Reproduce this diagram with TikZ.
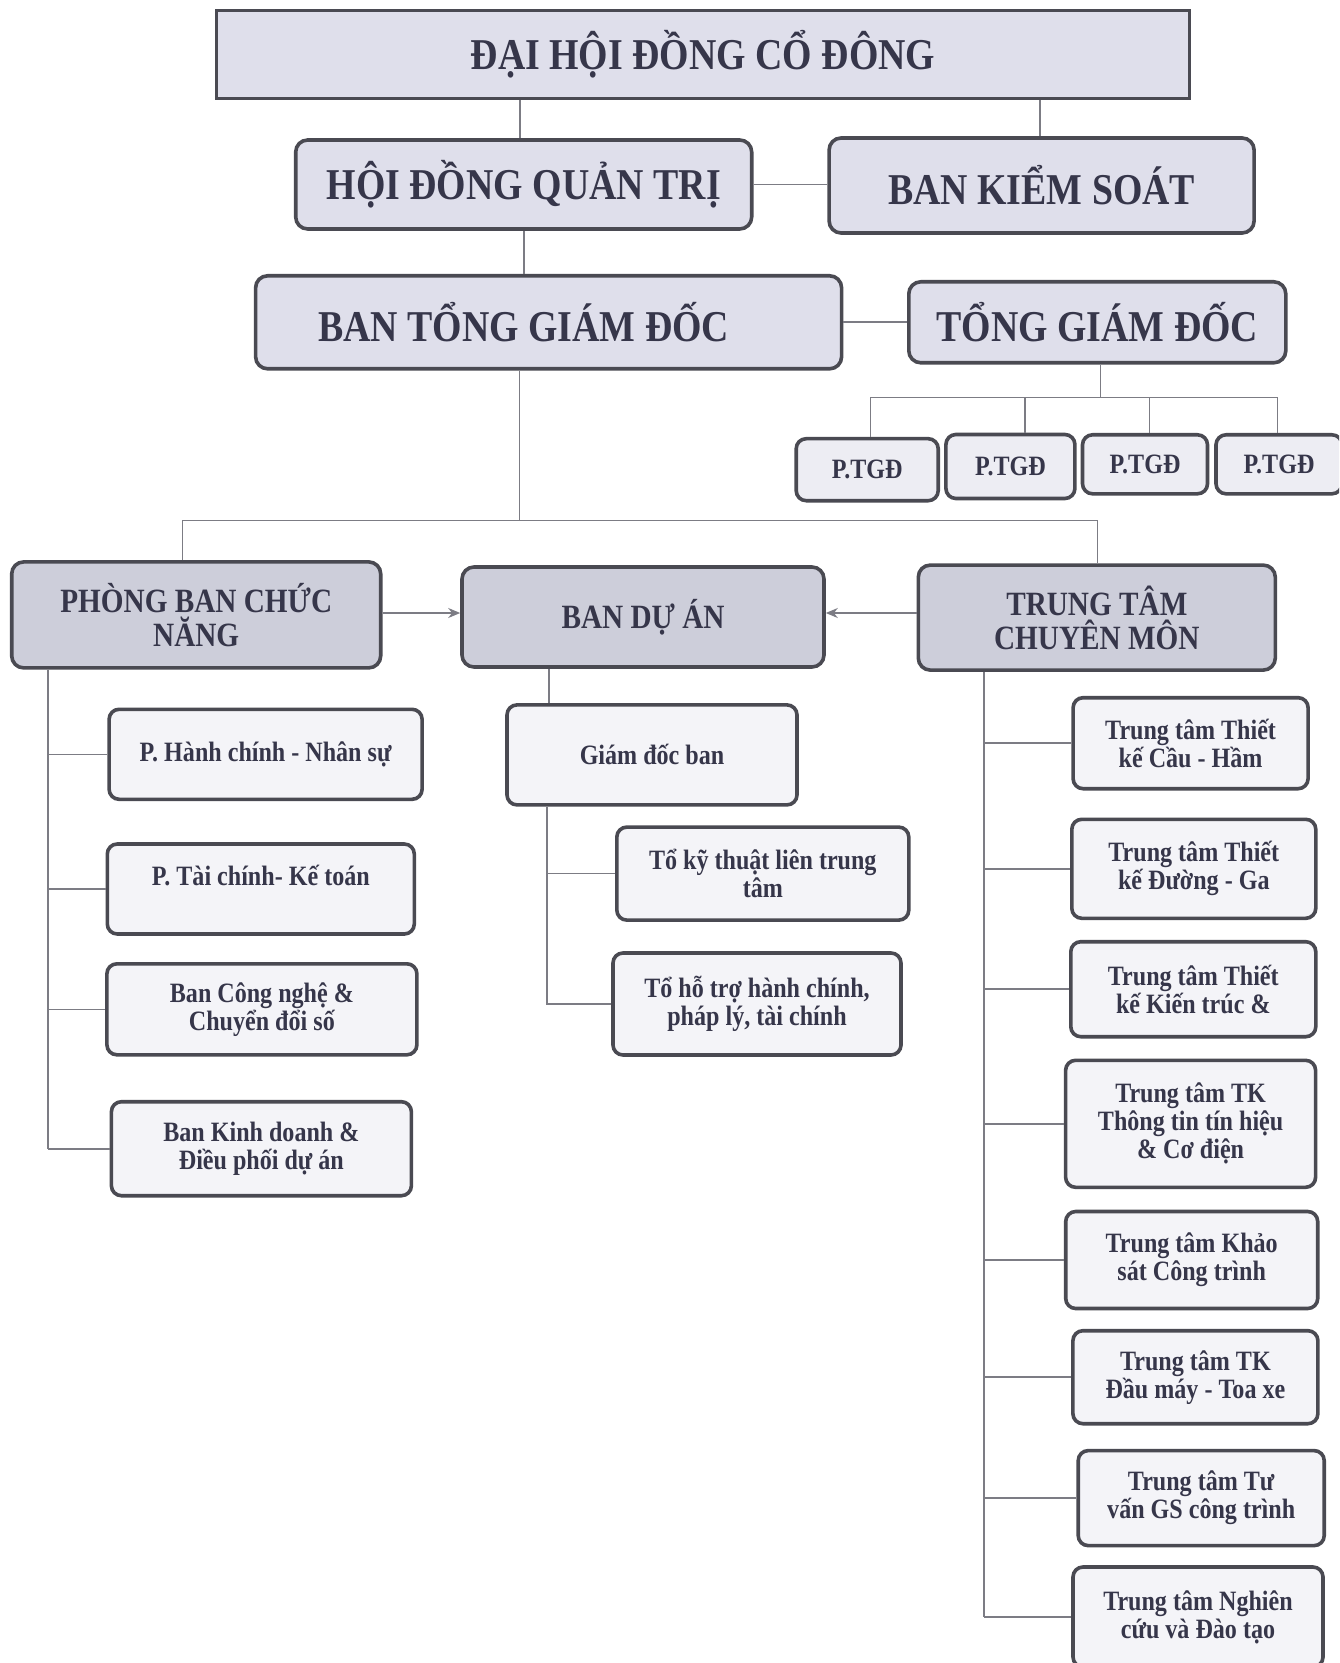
\documentclass[tikz,border=0pt]{standalone}
\usepackage{fontspec}
\setmainfont{Liberation Serif}
\newfontfamily\orgfont[FakeStretch=0.86]{Liberation Serif}
\usetikzlibrary{arrows.meta}
\definecolor{boxline}{HTML}{4A4A52}
\definecolor{topfill}{HTML}{DFDFEB}
\definecolor{midfill}{HTML}{CDCEDA}
\definecolor{lowfill}{HTML}{F4F4F8}
\definecolor{ptfill}{HTML}{EDEDF3}
\definecolor{txt}{HTML}{36364A}
\definecolor{connc}{HTML}{7C7C84}
\begin{document}
\begin{tikzpicture}[x=0.5pt,y=-0.5pt,
  base/.style={draw=boxline, line width=1.8pt, rounded corners=5pt, inner sep=0pt, align=center, text=txt},
  topfont/.style={font=\orgfont\bfseries\fontsize{22}{22}\selectfont},
  topbox/.style={base, fill=topfill, rounded corners=6pt, topfont},
  midbox/.style={base, fill=midfill, rounded corners=6pt, font=\orgfont\bfseries\fontsize{17}{17}\selectfont},
  lowbox/.style={base, fill=lowfill, font=\orgfont\bfseries\fontsize{14}{14}\selectfont},
  ptbox/.style={base, fill=ptfill, font=\orgfont\bfseries\fontsize{14}{14}\selectfont},
  sz/.style 2 args={minimum width=#1*0.5pt, minimum height=#2*0.5pt},
  conn/.style={draw=connc, line width=0.8pt},
  arr/.style={conn, -{Stealth[length=6pt,width=5pt]}}
]
\useasboundingbox (0,0) rectangle (1339,1663);
\clip (0,0) rectangle (1339,1663);
\fill[white] (0,0) rectangle (1339,1663);

% top level
\node[topbox, sharp corners, sz={973}{88}] (dh) at (703,54.6) {ĐẠI HỘI ĐỒNG CỔ ĐÔNG};
\node[topbox, sz={456}{89}] (hdqt) at (523.7,184.5) {HỘI ĐỒNG QUẢN TRỊ};
\node[topbox, sz={425}{95}] (bks) at (1041.6,185.5) {BAN KIỂM SOÁT};
\node[topbox, sz={586}{93}] (btgd) at (548.6,322.3) {};
\node[topfont, text=txt, inner sep=0pt] (btgdt) at (523.7,322.3) {BAN TỔNG GIÁM ĐỐC};
\node[topbox, sz={377}{81}] (tgd) at (1097.3,322.3) {TỔNG GIÁM ĐỐC};

% P.TGD
\node[ptbox, sz={142}{62}] (p1) at (867.2,469.7) {P.TGĐ};
\node[ptbox, sz={129}{64}] (p2) at (1010.4,466.5) {P.TGĐ};
\node[ptbox, sz={125}{59}] (p3) at (1145,464.3) {P.TGĐ};
\node[ptbox, sz={126}{59}] (p4) at (1279,464.3) {P.TGĐ};

% middle level
\node[midbox, sz={369}{106}] (pbcn) at (196.2,614.9) {PHÒNG BAN CHỨC\\NĂNG};
\node[midbox, sz={362}{100}] (bda) at (643,617) {BAN DỰ ÁN};
\node[midbox, sz={357}{105}] (ttcm) at (1096.8,617.6) {TRUNG TÂM\\CHUYÊN MÔN};

% left column
\node[lowbox, sz={313}{90}] (hcns) at (265.6,754.3) {P. Hành chính - Nhân sự};
\node[lowbox, sz={307}{90}] (tckt) at (260.8,889) {P. Tài chính- Kế toán\\~};
\node[lowbox, sz={310}{91}] (cncds) at (261.9,1009.3) {Ban Công nghệ \&\\Chuyển đổi số};
\node[lowbox, sz={300}{94}] (kddp) at (261.4,1148.7) {Ban Kinh doanh \&\\Điều phối dự án};

% middle column
\node[lowbox, sz={290}{100}] (gdb) at (652,754.9) {Giám đốc ban};
\node[lowbox, sz={292}{93}] (tkt) at (762.8,873.6) {Tổ kỹ thuật liên trung\\tâm};
\node[lowbox, sz={288}{102}] (tht) at (757,1004) {Tổ hỗ trợ hành chính,\\pháp lý, tài chính};

% right column
\node[lowbox, sz={235}{91}] (c1) at (1190.6,743.2) {Trung tâm Thiết\\kế Cầu - Hầm};
\node[lowbox, sz={244}{99}] (c2) at (1193.8,868.8) {Trung tâm Thiết\\kế Đường - Ga};
\node[lowbox, sz={245}{95}] (c3) at (1193.3,989.2) {Trung tâm Thiết\\kế Kiến trúc \&};
\node[lowbox, sz={250}{127}] (c4) at (1190.6,1123.8) {Trung tâm TK\\Thông tin tín hiệu\\\& Cơ điện};
\node[lowbox, sz={252}{97}] (c5) at (1191.7,1260) {Trung tâm Khảo\\sát Công trình};
\node[lowbox, sz={245}{93}] (c6) at (1195.4,1377.2) {Trung tâm TK\\Đầu máy - Toa xe};
\node[lowbox, sz={246}{95}] (c7) at (1201.2,1498.1) {Trung tâm Tư\\vấn GS công trình};
\node[lowbox, sz={250}{100}] (c8) at (1198,1617) {Trung tâm Nghiên\\cứu và Đào tạo};

% connectors, top
\coordinate (xa) at (520,0);
\coordinate (xb) at (1040,0);
\draw[conn] (xa |- dh.south) -- (xa |- hdqt.north);
\draw[conn] (xb |- dh.south) -- (xb |- bks.north);
\draw[conn] (hdqt.east) -- (hdqt.east -| bks.west);
\draw[conn] (hdqt.south) -- (hdqt.south |- btgd.north);
\draw[conn] (btgd.east) -- (btgd.east -| tgd.west);

% TGD to P.TGD
\coordinate (ja) at (1100.5,397.6);
\coordinate (jp1) at (870.4,397.6);
\coordinate (jp2) at (1025.2,397.6);
\coordinate (jp3) at (1149.3,397.6);
\coordinate (jp4) at (1277.5,397.6);
\draw[conn] (ja |- tgd.south) -- (ja);
\draw[conn] (jp1) -- (jp4);
\draw[conn] (jp1) -- (jp1 |- p1.north);
\draw[conn] (jp2) -- (jp2 |- p2.north);
\draw[conn] (jp3) -- (jp3 |- p3.north);
\draw[conn] (jp4) -- (jp4 |- p4.north);

% BTGD to middle level
\coordinate (jb) at (519.5,520.6);
\coordinate (jl) at (182.4,520.6);
\coordinate (jr) at (1097.3,520.6);
\draw[conn] (jb |- btgd.south) -- (jb);
\draw[conn] (jl |- pbcn.north) -- (jl) -- (jr) -- (jr |- ttcm.north);

% arrows to BAN DU AN
\coordinate (ya) at (0,613);
\draw[arr] (ya -| pbcn.east) -- (ya -| bda.west);
\draw[arr] (ya -| ttcm.west) -- (ya -| bda.east);

% left tree
\coordinate (lv) at (47.7,0);
\draw[conn] (lv |- pbcn.south) -- (lv |- kddp.west);
\foreach \n in {hcns,tckt,cncds,kddp}
  \draw[conn] (lv |- \n.west) -- (\n.west);

% middle tree
\coordinate (mv) at (549,0);
\coordinate (mw) at (547,0);
\draw[conn] (mv |- bda.south) -- (mv |- gdb.north);
\draw[conn] (mw |- gdb.south) -- (mw |- tht.west) -- (tht.west);
\draw[conn] (mw |- tkt.west) -- (tkt.west);

% right tree
\coordinate (rv) at (984,0);
\draw[conn] (rv |- ttcm.south) -- (rv |- c8.west);
\foreach \n in {c1,c2,c3,c4,c5,c6,c7,c8}
  \draw[conn] (rv |- \n.west) -- (\n.west);
\end{tikzpicture}
\end{document}
